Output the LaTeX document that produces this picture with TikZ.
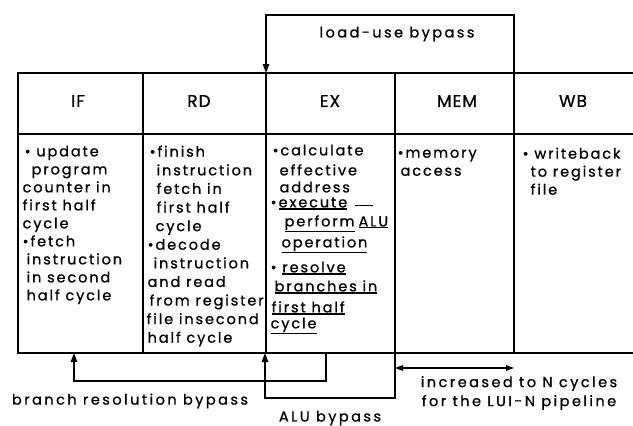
\documentclass[tikz,border=0pt]{standalone}
\usepackage{fontspec}
\setmainfont{Poppins}
\newfontfamily\bodyfam[LetterSpace=13,FakeBold=0.8]{Poppins}
\newfontfamily\lblfam[LetterSpace=17,FakeBold=0.8]{Poppins}
\newfontfamily\hdrfam[LetterSpace=6,FakeBold=0.8]{Poppins}
\usetikzlibrary{arrows.meta}
\newcommand\ulx[1]{\setbox0\hbox{#1}\rlap{\rule[\dimexpr-\dp0-2pt\relax]{\wd0}{1.1pt}}\box0}
\begin{document}
\begin{tikzpicture}[x=1pt,y=-1pt,line width=1.3pt,
  lbl/.style={font=\lblfam\fontsize{14.5}{19}\selectfont,inner sep=0pt,align=center},
  hdr/.style={font=\hdrfam\fontsize{17}{20}\selectfont,inner sep=0pt},
  body/.style={font=\bodyfam\fontsize{14.5}{18}\selectfont,align=left,anchor=north west,inner sep=0pt},
  arr/.style={-{Triangle[length=9pt,width=6.5pt]}},
  darr/.style={{Triangle[length=8pt,width=5.5pt]}-{Triangle[length=8pt,width=5.5pt]}}]
\useasboundingbox (0,0) rectangle (633,426);
% table grid
\draw (633,73) -- (18,73) -- (18,353) -- (633,353);
\draw (18,134) -- (633,134);
\draw (143,73) -- (143,353);
\draw (266,73) -- (266,353);
\draw (395,73) -- (395,353);
\draw (514,73) -- (514,353);
% headers
\node[hdr] (hIF) at (78,101) {IF};
\node[hdr] (hRD) at (199,101) {RD};
\node[hdr] (hEX) at (330,101) {EX};
\node[hdr] (hMEM) at (457,101) {MEM};
\node[hdr] (hWB) at (573,101) {WB};
% bodies
\node[body] (bIF) at (22,145) {\hspace{2pt}• update\\\hspace{9pt}program\\counter in\\first half\\cycle\\•fetch\\\hspace{4pt}instruction\\\hspace{4pt}in second\\\hspace{4pt}half cycle};
\node[body,font=\bodyfam\fontsize{14.5}{18.6}\selectfont] (bRD) at (146,145) {\hspace{3pt}•finish\\\hspace{10pt}instruction\\\hspace{10pt}fetch in\\\hspace{10pt}first half\\\hspace{9pt}cycle\\\hspace{1pt}•decode\\\hspace{7pt}instruction\\\hspace{1pt}and read\\\hspace{3pt}from register\\file insecond\\\hspace{1pt}half cycle};
\node[body,font=\bodyfam\fontsize{14.5}{20}\selectfont] (bEX) at (270,144) {\hspace{2pt}•calculate\\[0pt]\hspace{9pt}effective\\[-3pt]\hspace{9pt}address\\[-5pt]•\hspace{2pt}\ulx{execute}\hspace{8pt}\rule[1pt]{18pt}{1.1pt}\\[-1pt]\hspace{14pt}\ulx{perform}\hspace{4pt}\ulx{ALU}\\[1pt]\hspace{11pt}\ulx{operation}\\[5pt]• \ulx{resolve}\\[-1pt]\hspace{4pt}\ulx{branches in}\\[1pt]\hspace{1pt}\ulx{first half}\\[-4pt]\ulx{cycle}};
\node[body] (bMEM) at (397,149) {•memory\\\hspace{3pt}access};
\node[body] (bWB) at (522,147) {• writeback\\\hspace{8pt}to register\\\hspace{8pt}file};
% load-use bypass
\coordinate (luS) at (514,73);
\coordinate (luA) at (514,15);
\coordinate (luB) at (266,15);
\coordinate (luE) at (266,73);
\draw[arr] (luS) -- (luA) -- (luB) -- (luE);
\node[lbl] (tLU) at (397,34) {load-use bypass};
% branch resolution bypass
\coordinate (brS) at (326,353);
\coordinate (brA) at (326,381);
\coordinate (brB) at (74,381);
\coordinate (brE) at (74,353);
\draw[arr] (brS) -- (brA) -- (brB) -- (brE);
\node[lbl] (tBR) at (130,401) {branch resolution bypass};
% ALU bypass
\coordinate (alS) at (395,353);
\coordinate (alA) at (395,398);
\coordinate (alB) at (265,398);
\coordinate (alE) at (265,353);
\draw[arr] (alS) -- (alA) -- (alB) -- (alE);
\node[lbl] (tAL) at (330,418) {ALU bypass};
% increased to N cycles
\coordinate (nL) at (395,368);
\coordinate (nR) at (514,368);
\draw[darr] (nL) -- (nR);
\node[lbl] (tN) at (519,393) {increased to N cycles\\for the LUI-N pipeline};
\end{tikzpicture}
\end{document}
